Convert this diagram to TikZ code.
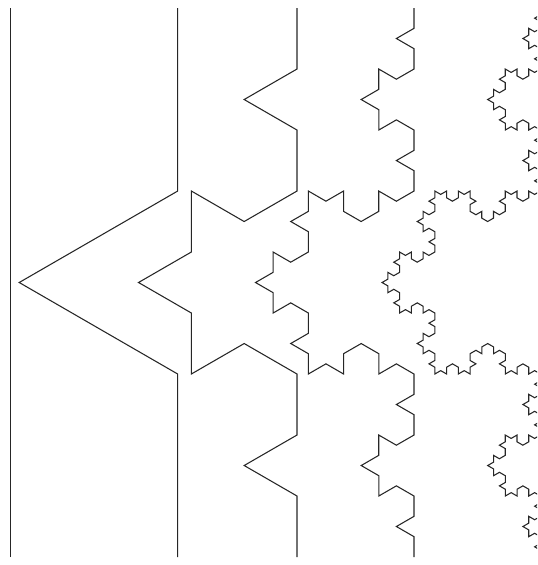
\documentclass[tikz,border=0pt]{standalone}
\usetikzlibrary{decorations.fractals}
\begin{document}
\begin{tikzpicture}[x=0.75pt,y=-0.75pt,
  koch/.style={draw=black!85,line width=0.8pt,line join=miter,decoration=Koch snowflake}]
\useasboundingbox (0,0) rectangle (537,565);
\begin{scope}
\clip (0,0) rectangle (537,565);
\path[koch] (10.5,557) -- (10.5,8);
\path[koch] decorate{(177.7,557) -- (177.7,8)};
\path[koch] decorate{decorate{(297,557) -- (297,8)}};
\path[koch] decorate{decorate{decorate{(414,557) -- (414,8)}}};
\path[koch] decorate{decorate{decorate{decorate{(540.5,557) -- (540.5,8)}}}};
\end{scope}
\end{tikzpicture}
\end{document}
